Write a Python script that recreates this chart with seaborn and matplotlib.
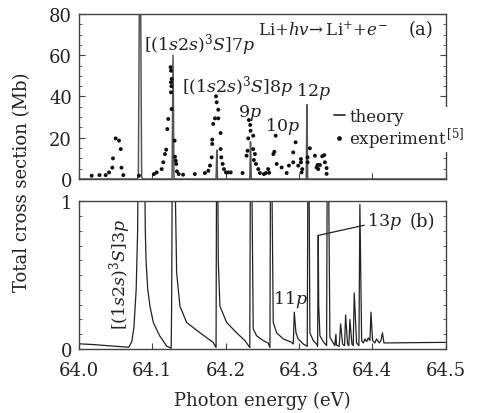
import numpy as np
import pandas as pd
import matplotlib
matplotlib.use("Agg")
import matplotlib.pyplot as plt
from matplotlib.lines import Line2D
from matplotlib.ticker import MultipleLocator
import seaborn as sns

# ---------------- data ----------------
# panel (a): theory (Mb)
theory_a_x = [64.000, 64.0790, 64.0810, 64.0825, 64.0840, 64.0855, 64.0875,
              64.1270, 64.1283, 64.1296, 64.1870, 64.1880, 64.1890,
              64.2330, 64.2340, 64.2350, 64.3100, 64.3110, 64.3120, 64.500]
theory_a_y = [0.0, 0.0, 1.0, 95.0, 95.0, 1.0, 0.0,
              0.0, 60.0, 0.0, 0.0, 14.0, 0.0,
              0.0, 18.0, 0.0, 0.0, 36.0, 0.0, 0.0]

# panel (a): experiment [5] (Mb)
exp_x = [64.0173, 64.0280, 64.0364, 64.0410, 64.0455, 64.0464, 64.0500, 64.0546,
         64.0570, 64.0580, 64.0605, 64.0818,
         64.1023, 64.1060, 64.1128, 64.1150, 64.1173, 64.1190, 64.1205, 64.1218,
         64.1250, 64.1255, 64.1264, 64.1255, 64.1260, 64.1255, 64.1264, 64.1305,
         64.1310, 64.1320, 64.1327, 64.1337, 64.1360, 64.1420,
         64.1580, 64.1718, 64.1764, 64.1787, 64.1810, 64.1818, 64.1818, 64.1832,
         64.1855, 64.1900, 64.1869, 64.1878, 64.1900, 64.1932, 64.1932, 64.1941,
         64.1960, 64.1978, 64.2005, 64.2037, 64.2070,
         64.2232, 64.2286, 64.2300, 64.2309, 64.2318, 64.2336, 64.2341, 64.2377,
         64.2377, 64.2400, 64.2386, 64.2414, 64.2446, 64.2468, 64.2523, 64.2550,
         64.2581, 64.2595, 64.2652, 64.2665, 64.2683, 64.2697, 64.2764, 64.2833,
         64.2864, 64.2923, 64.2955, 64.2923, 64.2991, 64.3028, 64.3028, 64.3046,
         64.3037, 64.3119, 64.3119, 64.3150, 64.3219, 64.3241, 64.3255, 64.3287,
         64.3264, 64.3318, 64.3346, 64.3355, 64.3378, 64.3378]
exp_y = [1.6, 1.9, 1.9, 3.2, 5.5, 10.0, 19.7, 18.6,
         14.5, 5.5, 1.9, 1.6,
         2.4, 3.2, 4.8, 8.1, 12.1, 14.2, 24.2, 29.1,
         54.2, 52.5, 48.5, 46.9, 45.0, 42.0, 33.9, 18.6,
         10.8, 8.9, 7.3, 3.7, 2.4, 2.1,
         2.4, 2.9, 4.0, 6.5, 10.5, 17.0, 19.1, 26.7,
         29.4, 29.4, 40.1, 37.2, 33.6, 22.3, 14.5, 10.5,
         7.3, 4.8, 3.2, 3.2, 3.2,
         2.9, 11.3, 13.7, 19.7, 28.6, 26.2, 23.4, 21.0,
         14.5, 12.1, 9.2, 7.3, 4.8, 2.9, 2.4, 2.9,
         4.8, 3.0, 12.1, 13.2, 21.0, 7.3, 5.6, 2.9,
         6.5, 12.9, 17.8, 8.1, 6.5, 9.7, 8.1, 4.8,
         3.2, 10.5, 8.1, 14.9, 11.3, 5.6, 6.8, 6.8,
         4.8, 11.0, 11.6, 8.1, 5.3, 2.5]

# panel (b): theory, zoomed (Mb)
theory_b_x = [64.000, 64.020, 64.040, 64.060, 64.068, 64.072, 64.075, 64.078, 64.080, 64.081,
              64.0890, 64.0905, 64.0915, 64.0937, 64.0968, 64.1014, 64.1100, 64.1196, 64.1258,
              64.1264, 64.1275, 64.1300, 64.1332, 64.1377, 64.1469, 64.1650, 64.1830, 64.1870,
              64.1878, 64.1890, 64.1900, 64.1923, 64.2014, 64.2150, 64.2264, 64.2330,
              64.2340, 64.2352, 64.2377, 64.2423, 64.2514, 64.2582, 64.2605,
              64.2614, 64.2625, 64.2650, 64.2696, 64.2787, 64.2900, 64.2923,
              64.2937, 64.2960, 64.2990, 64.3060, 64.3114,
              64.3125, 64.3135, 64.3150, 64.3196, 64.3241, 64.3255,
              64.3264, 64.3270, 64.3287, 64.3332, 64.3378,
              64.3388, 64.3400, 64.3423, 64.3469, 64.3490,
              64.3505, 64.3512, 64.3550, 64.3569, 64.3596, 64.3623, 64.3637, 64.3664,
              64.3682, 64.3696, 64.3723, 64.3741, 64.3755, 64.3787, 64.3819, 64.3832,
              64.3856, 64.3878, 64.3901, 64.3924, 64.3946, 64.3969, 64.3983, 64.4005,
              64.4037, 64.4060, 64.4096, 64.4119, 64.4140, 64.4160, 64.500]
theory_b_y = [0.035, 0.030, 0.022, 0.015, 0.012, 0.050, 0.150, 0.400, 0.800, 1.500,
              1.500, 0.800, 0.600, 0.410, 0.290, 0.180, 0.090, 0.020, 0.005,
              0.300, 1.500, 1.500, 0.520, 0.290, 0.180, 0.110, 0.045, 0.010,
              1.500, 1.500, 0.600, 0.290, 0.180, 0.110, 0.057, 0.010,
              1.500, 1.500, 0.136, 0.090, 0.057, 0.040, 0.010,
              1.500, 1.500, 0.180, 0.110, 0.068, 0.045, 0.034,
              0.250, 0.110, 0.068, 0.034, 0.018,
              1.500, 1.500, 0.110, 0.057, 0.034, 0.018,
              0.770, 0.300, 0.090, 0.050, 0.023,
              1.500, 1.500, 0.080, 0.040, 0.023,
              0.100, 0.027, 0.018, 0.170, 0.034, 0.023, 0.230, 0.034,
              0.023, 0.200, 0.034, 0.023, 0.380, 0.041, 0.023, 0.980,
              0.057, 0.041, 0.068, 0.050, 0.075, 0.057, 0.250, 0.057,
              0.041, 0.068, 0.041, 0.057, 0.110, 0.041, 0.045]

# ---------------- style ----------------
sns.set_style("ticks")
plt.rcParams["font.family"] = ["DejaVu Serif"]
plt.rcParams["mathtext.fontset"] = "dejavuserif"
plt.rcParams["font.size"] = 13
plt.rcParams["axes.edgecolor"] = "#444444"
plt.rcParams["axes.linewidth"] = 1.0
plt.rcParams["xtick.direction"] = "in"
plt.rcParams["ytick.direction"] = "in"
plt.rcParams["xtick.color"] = "#444444"
plt.rcParams["ytick.color"] = "#444444"
plt.rcParams["xtick.labelcolor"] = "#222222"
plt.rcParams["ytick.labelcolor"] = "#222222"
plt.rcParams["text.color"] = "#222222"

fig = plt.figure(figsize=(4.81, 4.14), dpi=100)
ax_a = fig.add_axes([0.1642, 0.5652, 0.762, 0.3986])
ax_b = fig.add_axes([0.1642, 0.1546, 0.762, 0.3563])

df_a = pd.DataFrame({"x": theory_a_x, "y": theory_a_y})
df_e = pd.DataFrame({"x": exp_x, "y": exp_y})
df_b = pd.DataFrame({"x": theory_b_x, "y": theory_b_y})

sns.lineplot(data=df_a, x="x", y="y", ax=ax_a, color="#555555", lw=1.1,
             estimator=None, sort=False)
sns.scatterplot(data=df_e, x="x", y="y", ax=ax_a, color="#111111", s=8,
                edgecolor="none", zorder=3)
sns.lineplot(data=df_b, x="x", y="y", ax=ax_b, color="#222222", lw=0.9,
             estimator=None, sort=False)

for ax in (ax_a, ax_b):
    ax.set_xlim(64.0, 64.5)
    ax.set_xlabel("")
    ax.set_ylabel("")
    ax.xaxis.set_major_locator(MultipleLocator(0.1))
    ax.tick_params(axis="both", which="major", length=4, width=0.8,
                   right=True, top=False, pad=5)
    ax.tick_params(axis="y", which="minor", length=2, width=0.6, right=True)
    for s in ax.spines.values():
        s.set_visible(True)

ax_a.set_ylim(0, 80)
ax_a.yaxis.set_major_locator(MultipleLocator(20))
ax_a.yaxis.set_minor_locator(MultipleLocator(5))
ax_a.set_xticklabels([])

ax_b.set_ylim(0, 1)
ax_b.set_yticks([0, 1])
ax_b.set_yticklabels(["0", "1"])
ax_b.yaxis.set_minor_locator(MultipleLocator(0.1))
ax_b.set_xticks([64.0, 64.1, 64.2, 64.3, 64.4, 64.5])
ax_b.set_xticklabels(["64.0", "64.1", "64.2", "64.3", "64.4", "64.5"])
ax_b.tick_params(axis="x", pad=9)
ax_b.set_xlabel("Photon energy (eV)", labelpad=8)

fig.text(0.046, 0.56, "Total cross section (Mb)", rotation=90,
         ha="center", va="center")

# ---------------- annotations (a) ----------------
ax_a.text(64.244, 72.5, r"Li+$hv\!\rightarrow$Li$^{+}$+$e^{-}$", ha="left", va="center",
          fontsize=12)
ax_a.text(64.4665, 72.5, "(a)", ha="center", va="center")
ax_a.text(64.089, 65.5, r"[(1$s$2$s$)$^3S$]7$p$", ha="left", va="center", fontsize=12.5)
ax_a.text(64.140, 45.0, r"[(1$s$2$s$)$^3S$]8$p$", ha="left", va="center", fontsize=12.5)
ax_a.text(64.233, 32.5, r"9$p$", ha="center", va="center", fontsize=12.5)
ax_a.text(64.278, 25.7, r"10$p$", ha="center", va="center", fontsize=12.5)
ax_a.text(64.320, 42.7, r"12$p$", ha="center", va="center", fontsize=12.5)

handles = [Line2D([], [], color="#222222", lw=1.2),
           Line2D([], [], color="#111111", marker="o", ms=2.4, ls="")]
leg = ax_a.legend(handles, ["theory", r"experiment$^{\,[5]}$"],
                  loc="upper left", bbox_to_anchor=(0.690, 0.740),
                  bbox_transform=fig.transFigure, frameon=True,
                  handlelength=0.7, handletextpad=0.25, labelspacing=0.0,
                  borderpad=0.1, borderaxespad=0.0, fontsize=12)
leg.get_frame().set_facecolor("white")
leg.get_frame().set_edgecolor("none")
leg.get_frame().set_alpha(1.0)

# ---------------- annotations (b) ----------------
ax_b.text(64.056, 0.51, r"[(1$s$2$s$)$^3S$]3$p$", rotation=90,
          ha="center", va="center", fontsize=12.5)
ax_b.text(64.288, 0.34, r"11$p$", ha="center", va="center", fontsize=12.5)
ax_b.annotate(r"13$p$", xy=(64.3264, 0.77), xytext=(64.3935, 0.87),
              ha="left", va="center", fontsize=12.5,
              arrowprops=dict(arrowstyle="-", color="#222222", lw=0.9,
                              shrinkA=0, shrinkB=0))
ax_b.text(64.469, 0.87, "(b)", ha="center", va="center")

fig.savefig("out.png", dpi=100)
